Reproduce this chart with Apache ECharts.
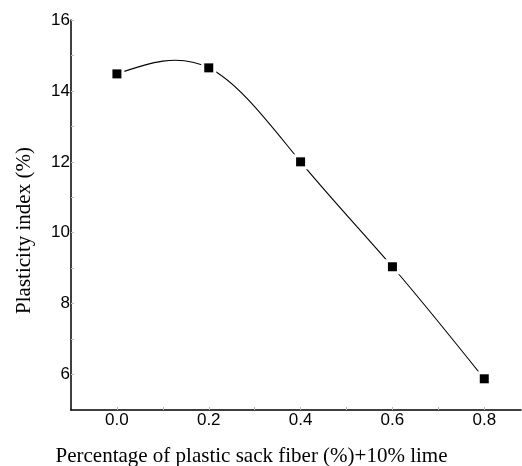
<!DOCTYPE html>
<html>
<head>
<meta charset="utf-8">
<script src="https://cdn.jsdelivr.net/npm/echarts@6/dist/echarts.min.js"></script>
<style>html,body{margin:0;padding:0;background:#fff}#c{width:522px;height:466px}</style>
</head>
<body>
<div id="c"></div>
<script>
const fiber = [0.0, 0.2, 0.4, 0.6, 0.8];
const plasticity = [14.48, 14.65, 12.0, 9.04, 5.88];
const xTickLabels = [0.0, 0.2, 0.4, 0.6, 0.8];
const xTicks = [0.0, 0.1, 0.2, 0.3, 0.4, 0.5, 0.6, 0.7, 0.8];
const yTickLabels = [6, 8, 10, 12, 14, 16];
const yTicks = [6, 7, 8, 9, 10, 11, 12, 13, 14, 15, 16];
const xLabel = 'Percentage of plastic sack fiber (%)+10% lime';
const yLabel = 'Plasticity index (%)';

const pts = fiber.map((x, i) => [x, plasticity[i]]);

// natural cubic spline through the data points (curve shape only)
function splineSegments(xs, ys) {
  const n = xs.length;
  const h = [];
  for (let i = 0; i < n - 1; i++) h.push(xs[i + 1] - xs[i]);
  const a = new Array(n).fill(0), b = new Array(n).fill(1), c = new Array(n).fill(0), d = new Array(n).fill(0);
  for (let i = 1; i < n - 1; i++) {
    a[i] = h[i - 1]; b[i] = 2 * (h[i - 1] + h[i]); c[i] = h[i];
    d[i] = 6 * ((ys[i + 1] - ys[i]) / h[i] - (ys[i] - ys[i - 1]) / h[i - 1]);
  }
  const cp = new Array(n).fill(0), dp = new Array(n).fill(0);
  cp[0] = c[0] / b[0]; dp[0] = d[0] / b[0];
  for (let i = 1; i < n; i++) {
    const m = b[i] - a[i] * cp[i - 1];
    cp[i] = c[i] / m; dp[i] = (d[i] - a[i] * dp[i - 1]) / m;
  }
  const M = new Array(n).fill(0);
  M[n - 1] = dp[n - 1];
  for (let i = n - 2; i >= 0; i--) M[i] = dp[i] - cp[i] * M[i + 1];
  const segs = [];
  for (let i = 0; i < n - 1; i++) {
    const hi = h[i];
    const s0 = (ys[i + 1] - ys[i]) / hi - hi * (2 * M[i] + M[i + 1]) / 6;
    const s1 = (ys[i + 1] - ys[i]) / hi + hi * (M[i] + 2 * M[i + 1]) / 6;
    segs.push({
      p0: [xs[i], ys[i]],
      c1: [xs[i] + hi / 3, ys[i] + s0 * hi / 3],
      c2: [xs[i + 1] - hi / 3, ys[i + 1] - s1 * hi / 3],
      p1: [xs[i + 1], ys[i + 1]]
    });
  }
  return segs;
}
const segs = splineSegments(fiber, plasticity);

const chart = echarts.init(document.getElementById('c'));
chart.setOption({
  animation: false,
  backgroundColor: '#fff',
  grid: { left: 71, right: 1, top: 20, bottom: 56, containLabel: false, outerBoundsMode: 'none' },
  xAxis: {
    type: 'value', min: -0.1, max: 0.88,
    name: xLabel, nameLocation: 'middle', nameGap: 36,
    nameTextStyle: { fontFamily: 'Liberation Serif', fontSize: 21, color: '#000', padding: [0, 89, 0, 0] },
    axisLine: { show: true, onZero: false, lineStyle: { color: '#000', width: 1.5 } },
    axisTick: { show: true, inside: true, length: 3, lineStyle: { color: '#bbb' }, customValues: xTicks },
    splitLine: { show: false },
    axisLabel: { fontFamily: 'Liberation Sans', fontSize: 17, color: '#000', margin: 2,
      formatter: v => v.toFixed(1), customValues: xTickLabels }
  },
  yAxis: {
    type: 'value', min: 5, max: 16,
    name: yLabel, nameLocation: 'middle', nameGap: 36, nameRotate: 90,
    nameTextStyle: { fontFamily: 'Liberation Serif', fontSize: 21, color: '#000', padding: [0, 31, 0, 0] },
    axisLine: { show: true, onZero: false, lineStyle: { color: '#000', width: 1.5 } },
    axisTick: { show: true, inside: true, length: 3, lineStyle: { color: '#bbb' }, customValues: yTicks },
    splitLine: { show: false },
    axisLabel: { fontFamily: 'Liberation Sans', fontSize: 17, color: '#000', margin: 1,
      customValues: yTickLabels }
  },
  series: [
    {
      type: 'custom', data: pts, z: 2,
      renderItem: function (params, api) {
        if (params.dataIndex !== 0) return null;
        const children = segs.map(s => {
          const p0 = api.coord(s.p0), c1 = api.coord(s.c1), c2 = api.coord(s.c2), p1 = api.coord(s.p1);
          return {
            type: 'bezierCurve',
            shape: { x1: p0[0], y1: p0[1], cpx1: c1[0], cpy1: c1[1], cpx2: c2[0], cpy2: c2[1], x2: p1[0], y2: p1[1] },
            style: { stroke: '#000', fill: null, lineWidth: 1.1 }
          };
        });
        return { type: 'group', children: children };
      }
    },
    {
      type: 'scatter', data: pts, symbol: 'rect', symbolSize: 15,
      itemStyle: { color: '#fff', opacity: 1 }, z: 3, silent: true
    },
    {
      type: 'scatter', data: pts, symbol: 'rect', symbolSize: 9,
      itemStyle: { color: '#000', opacity: 1 }, z: 4
    }
  ]
});
</script>
</body>
</html>
